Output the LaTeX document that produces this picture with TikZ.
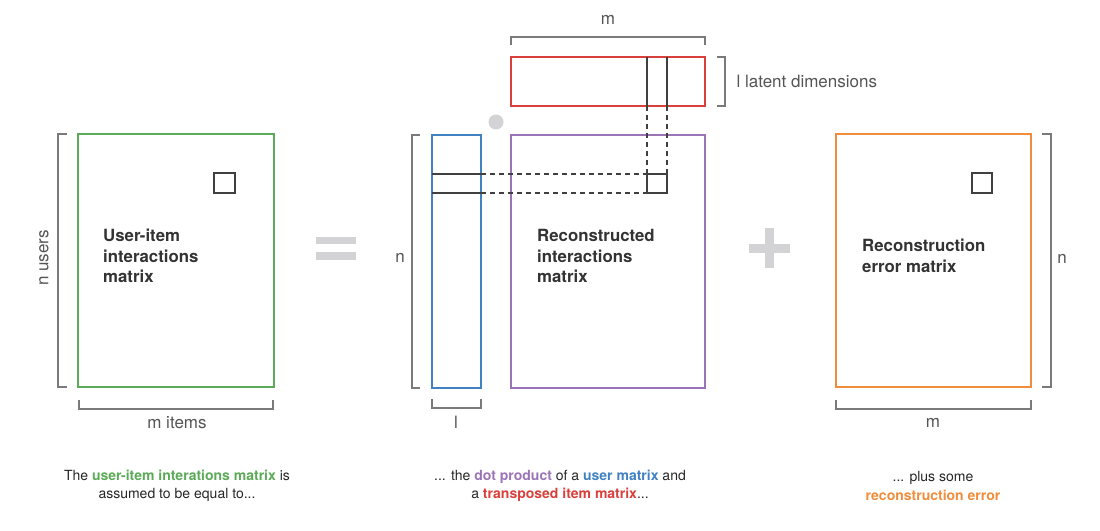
\documentclass[tikz,border=0pt]{standalone}
\usepackage{fontspec}
\setmainfont{TeX Gyre Heros}
\definecolor{umgreen}{HTML}{5BAA57}
\definecolor{umblue}{HTML}{4182C3}
\definecolor{umpurple}{HTML}{9B74B7}
\definecolor{umred}{HTML}{D9403C}
\definecolor{umorange}{HTML}{F08D3C}
\definecolor{opgray}{HTML}{D3D3D6}
\definecolor{brkgray}{HTML}{7A7A7A}
\definecolor{txtgray}{HTML}{555555}
\tikzset{
  mat/.style={line width=2pt},
  cell/.style={draw=black!75, line width=1.1pt},
  brk/.style={draw=brkgray, line width=1.2pt},
  dim/.style={text=txtgray, font=\fontsize{17}{20}\selectfont},
  title/.style={text=black!80, font=\bfseries\fontsize{16.8}{20.5}\selectfont, align=left, anchor=west, inner sep=0pt},
  caption/.style={text=black!85, font=\fontsize{14}{18.5}\selectfont, align=center}
}
\begin{document}
\begin{tikzpicture}[x=1pt, y=-1pt, line join=miter]
\useasboundingbox (0,0) rectangle (1100,530);
% user-item interactions matrix
\draw[mat, umgreen] (78,134) rectangle (274,387);
\draw[cell] (214,173) rectangle (235,193);
\draw[brk] (67,134) -- (58,134) -- (58,387) -- (67,387);
\draw[brk] (79,400) -- (79,409) -- (273,409) -- (273,400);
\node[dim, rotate=90] (nusers) at (44,258) {n users};
\node[dim] (mitems) at (177,423) {m items};
\node[title] (uimat) at (103,256) {User-item\\interactions\\matrix};
% equals sign
\fill[opgray] (316,237) rectangle (356,244);
\fill[opgray] (316,252) rectangle (356,260);
% item matrix (transposed)
\draw[mat, umred] (511,57) rectangle (705,106);
\draw[cell] (647,57) -- (647,106) (667,57) -- (667,106);
\draw[brk] (511,45) -- (511,37) -- (705,37) -- (705,45);
\draw[brk] (717,57) -- (725,57) -- (725,106) -- (717,106);
\node[dim] (mtop) at (608,20) {m};
\node[dim, anchor=west] (latent) at (733,81) {l latent dimensions};
% dot
\fill[opgray] (496,122) circle (7.5);
% user matrix
\draw[mat, umblue] (432,135) rectangle (481,388);
\draw[cell] (432,174) -- (481,174) (432,193) -- (481,193);
\draw[brk] (420,135) -- (412,135) -- (412,388) -- (420,388);
\draw[brk] (432,399) -- (432,408) -- (481,408) -- (481,399);
\node[dim] (nmid) at (400,258) {n};
\node[dim] (lbot) at (456,422) {l};
% reconstructed interactions matrix
\draw[mat, umpurple] (511,135) rectangle (705,388);
\draw[cell] (647,174) rectangle (667,193);
\draw[cell, dashed, dash pattern=on 5pt off 4pt] (481,174) -- (647,174) (481,193) -- (647,193);
\draw[cell, dashed, dash pattern=on 5pt off 4pt] (647,106) -- (647,174) (667,106) -- (667,174);
\node[title] (recmat) at (537,256) {Reconstructed\\interactions\\matrix};
% plus sign
\fill[opgray] (749,244) rectangle (790,253);
\fill[opgray] (765,228) rectangle (774,268);
% reconstruction error matrix
\draw[mat, umorange] (836,134) rectangle (1031,387);
\draw[cell] (972,173) rectangle (992,193);
\draw[brk] (1042,134) -- (1051,134) -- (1051,387) -- (1042,387);
\draw[brk] (836,400) -- (836,409) -- (1031,409) -- (1031,400);
\node[dim] (nright) at (1062,259) {n};
\node[dim] (mright) at (933,423) {m};
\node[title] (errmat) at (862,256) {Reconstruction\\error matrix};
% captions
\node[caption] (cap1) at (177,486) {The \textcolor{umgreen}{\bfseries user-item interations matrix} is\\assumed to be equal to...};
\node[caption] (cap2) at (560,486) {... the \textcolor{umpurple}{\bfseries dot product} of a \textcolor{umblue}{\bfseries user matrix} and\\a \textcolor{umred}{\bfseries transposed item matrix}...};
\node[caption] (cap3) at (933,486) {... plus some\\\textcolor{umorange}{\bfseries reconstruction error}};
\end{tikzpicture}
\end{document}
